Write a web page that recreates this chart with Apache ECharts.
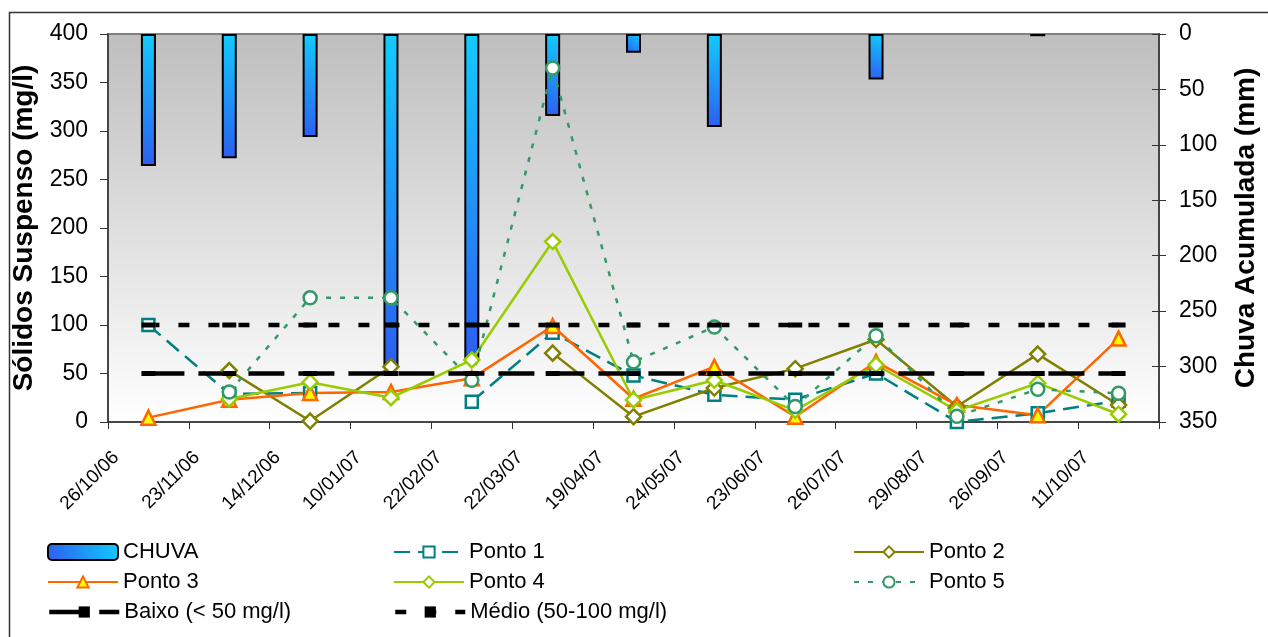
<!DOCTYPE html>
<html>
<head>
<meta charset="utf-8">
<script src="https://cdn.jsdelivr.net/npm/echarts@6/dist/echarts.min.js"></script>
<style>
html,body{margin:0;padding:0;background:#fff;}
#chart{width:1268px;height:637px;}
</style>
</head>
<body>
<div id="chart"></div>
<script>
// ---- data ----
var categories = ['26/10/06','23/11/06','14/12/06','10/01/07','22/02/07','22/03/07','19/04/07','24/05/07','23/06/07','26/07/07','29/08/07','26/09/07','11/10/07'];
var chuva  = [119, 112, 93, 300, 294, 74, 17, 84, null, 41, null, 2, null];
var ponto1 = [100, 29, 30, null, 21, 92, 48, 28, 23, 50, 0, 9, 22];
var ponto2 = [null, 53, 1, 57, null, 71, 5.5, 35, 55, 85, 16, 70, 17.5];
var ponto3 = [4.5, 23, 30, 31, 45, 99, 24, 57, 5.5, 62, 17.5, 7, 86];
var ponto4 = [null, 23.7, 41, 25, 64, 186, 22.7, 43, 12, 59, 11.7, 40, 8];
var ponto5 = [null, 31, 128, 128, 43, 365, 62, 98, 16, 89, 6, 33.7, 29.6];
var baixo  = [50,50,50,50,50,50,50,50,50,50,50,50,50];
var medio  = [100,100,100,100,100,100,100,100,100,100,100,100,100];
var leftTicks = {min: 0, max: 400, interval: 50};
var rightTicks = {min: 0, max: 350, interval: 50};

var FONT = 'Liberation Sans, Arial, sans-serif';
var chart = echarts.init(document.getElementById('chart'), null, {renderer: 'canvas'});

function line(name, data, color, opts) {
  return Object.assign({
    name: name, type: 'line', data: data, yAxisIndex: 0,
    symbolSize: 13, showSymbol: true, connectNulls: false,
    lineStyle: {color: color, width: 2.5},
    itemStyle: {color: '#fff', borderColor: color, borderWidth: 2.5},
    emphasis: {disabled: true}, animation: false
  }, opts || {});
}
function lg(name, left, top, w, h, lw) {
  var o = {
    data: [name], left: left, top: top, itemWidth: w || 70, itemHeight: h || 14,
    selectedMode: false, padding: 0,
    textStyle: {fontSize: 22, color: '#000', fontFamily: FONT}
  };
  if (lw) o.lineStyle = {width: lw};
  return o;
}

var barGrad = {type: 'linear', x: 1, y: 0, x2: 0, y2: 1,
  colorStops: [{offset: 0, color: '#12CCFF'}, {offset: 1, color: '#2C5EF0'}]};

var option = {
  backgroundColor: '#fff',
  animation: false,
  textStyle: {fontFamily: FONT},
  graphic: [{
    type: 'rect', shape: {x: 9.5, y: 12.5, width: 1300, height: 700},
    style: {fill: 'none', stroke: '#333', lineWidth: 1.5}, z: 100, silent: true
  }],
  grid: {
    left: 108, right: 90, top: 34, bottom: 215, show: true,
    backgroundColor: {type: 'linear', x: 0, y: 0, x2: 0, y2: 1,
      colorStops: [{offset: 0, color: '#BEBEBE'}, {offset: 1, color: '#FFFFFF'}]},
    borderColor: '#808080', borderWidth: 2
  },
  legend: [
    lg('CHUVA', 47, 541, 70, 16),
    lg('Ponto 3', 47, 571),
    lg('Baixo (< 50 mg/l)', 47, 601, 70, 14, 4.5),
    lg('Ponto 1', 393, 541),
    lg('Ponto 4', 393, 571),
    lg('Médio (50-100 mg/l)', 393, 601, 70, 14, 4.5),
    lg('Ponto 2', 853, 541),
    lg('Ponto 5', 853, 571)
  ],
  xAxis: {
    type: 'category', data: categories, boundaryGap: true,
    axisLine: {lineStyle: {color: '#333', width: 1.5}},
    axisTick: {show: true, length: 7, lineStyle: {color: '#333'}},
    axisLabel: {rotate: 45, fontSize: 19, color: '#000', margin: 0, padding: [0, 46, 0, 0], interval: 0, fontFamily: FONT},
    splitLine: {show: false}
  },
  yAxis: [{
    type: 'value', position: 'left', min: leftTicks.min, max: leftTicks.max, interval: leftTicks.interval,
    name: 'Sólidos Suspenso (mg/l)', nameLocation: 'middle', nameGap: 58, nameRotate: 90,
    nameTextStyle: {fontSize: 28, fontWeight: 'bold', color: '#000', fontFamily: FONT},
    axisLine: {show: true, lineStyle: {color: '#333', width: 1.5}},
    axisTick: {show: true, length: 8, lineStyle: {color: '#333'}},
    axisLabel: {fontSize: 23, color: '#000', margin: 20, fontFamily: FONT},
    splitLine: {show: false}
  }, {
    type: 'value', position: 'right', inverse: true, min: rightTicks.min, max: rightTicks.max, interval: rightTicks.interval,
    name: 'Chuva Acumulada (mm)', nameLocation: 'middle', nameGap: 73, nameRotate: 90,
    nameTextStyle: {fontSize: 28, fontWeight: 'bold', color: '#000', fontFamily: FONT},
    axisLine: {show: true, lineStyle: {color: '#333', width: 1.5}},
    axisTick: {show: true, length: 7, lineStyle: {color: '#333'}},
    axisLabel: {fontSize: 23, color: '#000', margin: 20, fontFamily: FONT},
    splitLine: {show: false}
  }, {
    type: 'value', position: 'right', inverse: true, min: rightTicks.min, max: rightTicks.max, interval: rightTicks.interval,
    axisLine: {show: false},
    axisTick: {show: true, inside: true, length: 7, lineStyle: {color: '#333'}},
    axisLabel: {show: false},
    splitLine: {show: false}
  }],
  series: [
    {
      name: 'CHUVA', type: 'bar', data: chuva, yAxisIndex: 1, barWidth: 15,
      itemStyle: {color: barGrad, borderColor: '#000', borderWidth: 2},
      emphasis: {disabled: true}
    },
    line('Ponto 1', ponto1, '#008080', {symbol: 'rect', symbolSize: 12,
      lineStyle: {color: '#008080', width: 2.5, type: [16, 8]}}),
    line('Ponto 2', ponto2, '#808000', {symbol: 'diamond', symbolSize: 15}),
    line('Ponto 3', ponto3, '#FF6600', {symbol: 'triangle', symbolSize: 14,
      itemStyle: {color: '#FFFF00', borderColor: '#FF6600', borderWidth: 2.5}}),
    line('Ponto 4', ponto4, '#99CC00', {symbol: 'diamond', symbolSize: 15}),
    line('Ponto 5', ponto5, '#339966', {symbol: 'circle', symbolSize: 13,
      lineStyle: {color: '#339966', width: 2.5, type: [5, 9]}}),
    {
      name: 'Baixo (< 50 mg/l)', type: 'line', data: baixo, yAxisIndex: 0,
      symbol: 'rect', symbolSize: [14, 5], itemStyle: {color: '#000'},
      lineStyle: {color: '#000', width: 4.5, type: [36, 14]}, emphasis: {disabled: true}
    },
    {
      name: 'Médio (50-100 mg/l)', type: 'line', data: medio, yAxisIndex: 0,
      symbol: 'rect', symbolSize: [14, 5], itemStyle: {color: '#000'},
      lineStyle: {color: '#000', width: 4.5, type: [11, 19]}, emphasis: {disabled: true}
    }
  ]
};
chart.setOption(option);
</script>
</body>
</html>
